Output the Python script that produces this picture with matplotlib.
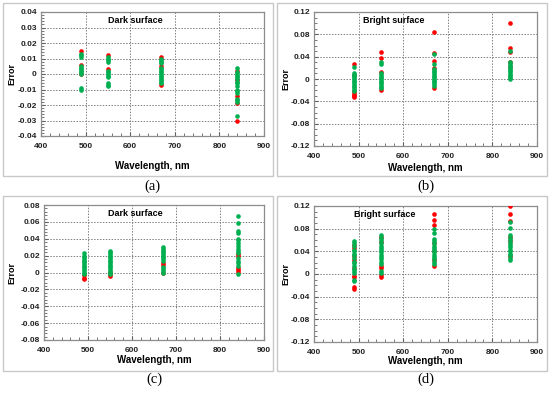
import matplotlib.pyplot as plt
from matplotlib.patches import Rectangle
from matplotlib.ticker import MultipleLocator, FuncFormatter

# --------------------------------------------------------------------------------
# Data
# --------------------------------------------------------------------------------
wavelengths = [490, 550, 670, 840]

a_red = [
    [0.015, 0.006, 0.0],
    [0.012, 0.003],
    [0.011, 0.005, -0.007],
    [0.002, -0.004, -0.014, -0.019, -0.030],
]
a_green = [
    [0.013, 0.012, 0.011, 0.005, 0.004, 0.003, 0.002, 0.001, 0.0, -0.009, -0.010],
    [0.011, 0.010, 0.009, 0.008, 0.002, 0.001, 0.0, -0.001, -0.002, -0.006, -0.007, -0.008],
    [0.010, 0.009, 0.008, 0.007, 0.004, 0.003, 0.002, 0.001, 0.0, -0.001, -0.002,
     -0.003, -0.004, -0.005, -0.006],
    [0.004, 0.001, 0.0, -0.001, -0.002, -0.003, -0.005, -0.006, -0.008, -0.010,
     -0.011, -0.012, -0.016, -0.017, -0.018, -0.027],
]

b_red = [
    [0.027, 0.007, -0.022, -0.025, -0.028, -0.031, -0.033],
    [0.048, 0.038, 0.012, -0.020],
    [0.085, 0.046, 0.032, 0.020, -0.016],
    [0.100, 0.056, 0.048, 0.030, 0.022],
]
b_green = [
    [0.021, 0.010, 0.008, 0.005, 0.003, 0.0, -0.003, -0.006, -0.009, -0.012, -0.015,
     -0.018, -0.021],
    [0.030, 0.026, 0.010, 0.007, 0.004, 0.001, -0.002, -0.005, -0.008, -0.011, -0.014,
     -0.017],
    [0.044, 0.026, 0.018, 0.015, 0.012, 0.009, 0.006, 0.003, 0.0, -0.003, -0.006,
     -0.009, -0.012],
    [0.051, 0.030, 0.027, 0.024, 0.020, 0.017, 0.014, 0.011, 0.008, 0.005, 0.002, 0.0],
]

c_red = [
    [-0.003, -0.006, -0.008],
    [0.001, -0.002, -0.004],
    [0.011, 0.009, -0.001],
    [0.022, 0.020, 0.005, 0.003, 0.001],
]
c_green = [
    [0.023, 0.020, 0.018, 0.016, 0.014, 0.012, 0.010, 0.008, 0.006, 0.004, 0.002, 0.0,
     -0.002],
    [0.026, 0.024, 0.022, 0.020, 0.018, 0.016, 0.014, 0.012, 0.010, 0.008, 0.006,
     0.004, 0.002, 0.0, -0.002],
    [0.030, 0.028, 0.026, 0.024, 0.022, 0.020, 0.018, 0.016, 0.014, 0.006, 0.004,
     0.002, 0.0],
    [0.067, 0.059, 0.049, 0.047, 0.040, 0.038, 0.035, 0.032, 0.028, 0.025, 0.023,
     0.017, 0.014, 0.011, 0.008, -0.002],
]

d_red = [
    [0.052, 0.046, 0.031, 0.025, 0.011, -0.003, -0.006, -0.023, -0.026],
    [0.066, 0.057, 0.014, 0.010, -0.002, -0.006],
    [0.106, 0.095, 0.087, 0.054, 0.040, 0.025, 0.014],
    [0.120, 0.106, 0.094, 0.066, 0.058, 0.032],
]
d_green = [
    [0.058, 0.054, 0.049, 0.043, 0.040, 0.036, 0.033, 0.028, 0.022, 0.019, 0.015,
     0.008, 0.005, 0.001, -0.010, -0.013],
    [0.068, 0.064, 0.060, 0.054, 0.050, 0.046, 0.042, 0.038, 0.034, 0.030, 0.026,
     0.022, 0.018, 0.005, 0.002],
    [0.080, 0.073, 0.062, 0.058, 0.054, 0.050, 0.046, 0.042, 0.038, 0.034, 0.030,
     0.026, 0.022, 0.018],
    [0.091, 0.082, 0.069, 0.063, 0.060, 0.055, 0.051, 0.047, 0.043, 0.040, 0.036,
     0.033, 0.029, 0.024],
]

titles = ["Dark surface", "Bright surface", "Dark surface", "Bright surface"]
captions = ["(a)", "(b)", "(c)", "(d)"]

# --------------------------------------------------------------------------------
# Layout (pixels, origin top-left)
# --------------------------------------------------------------------------------
W, H = 550, 395
RED = "#FF0000"
GREEN = "#00B050"
GRAY = "#8c8c8c"
SANS = "Liberation Sans"

fig = plt.figure(figsize=(W / 100, H / 100), dpi=100)


def px_rect(left, top, right, bottom):
    return [left / W, 1 - bottom / H, (right - left) / W, (bottom - top) / H]


boxes = [(3, 3, 273, 176), (277, 3, 547, 176), (3, 196, 273, 371), (277, 196, 547, 371)]
for l, t, r, b in boxes:
    fig.patches.append(Rectangle((l / W, 1 - b / H), (r - l) / W, (b - t) / H,
                                 transform=fig.transFigure, fill=False,
                                 edgecolor="#c8c8c8", linewidth=1.0))

panels = [
    dict(rect=(41, 12, 264, 136), red=a_red, green=a_green, lim=0.04, major=0.01,
         minor=0.002, tx=0.30, ylab_x=12, xlab_y=166, cap_y=186),
    dict(rect=(314, 12, 537, 146), red=b_red, green=b_green, lim=0.12, major=0.04,
         minor=0.01, tx=0.22, ylab_x=286, xlab_y=168, cap_y=186),
    dict(rect=(44, 205, 264, 340), red=c_red, green=c_green, lim=0.08, major=0.02,
         minor=0.004, tx=0.29, ylab_x=12, xlab_y=360, cap_y=379),
    dict(rect=(314, 206, 537, 342), red=d_red, green=d_green, lim=0.12, major=0.04,
         minor=0.01, tx=0.18, ylab_x=286, xlab_y=361, cap_y=379),
]


def fmt(v, pos):
    if abs(v) < 1e-9:
        return "0"
    return "%g" % round(v, 4)


for i, p in enumerate(panels):
    ax = fig.add_axes(px_rect(*p["rect"]))
    for j, wl in enumerate(wavelengths):
        ax.scatter([wl] * len(p["red"][j]), p["red"][j], s=11, color=RED,
                   linewidths=0, zorder=3)
        ax.scatter([wl] * len(p["green"][j]), p["green"][j], s=11, color=GREEN,
                   linewidths=0, zorder=4)

    ax.set_xlim(400, 900)
    ax.set_ylim(-p["lim"], p["lim"])
    ax.xaxis.set_major_locator(MultipleLocator(100))
    ax.xaxis.set_minor_locator(MultipleLocator(20))
    ax.yaxis.set_major_locator(MultipleLocator(p["major"]))
    ax.yaxis.set_minor_locator(MultipleLocator(p["minor"]))
    ax.yaxis.set_major_formatter(FuncFormatter(fmt))

    ax.grid(True, which="major", linestyle=(0, (1.5, 1.5)), color="#808080",
            linewidth=0.7)
    ax.set_axisbelow(True)
    for s in ax.spines.values():
        s.set_color(GRAY)
        s.set_linewidth(0.9)
    ax.tick_params(which="both", direction="in", color="#606060", labelsize=6,
                   pad=3, top=False, right=False)
    ax.tick_params(which="major", length=3)
    ax.tick_params(which="minor", length=2)
    ax.tick_params(axis="x", pad=5)
    for lab in ax.get_xticklabels() + ax.get_yticklabels():
        lab.set_fontweight("bold")
        lab.set_family(SANS)
        lab.set_color("#222222")

    ax.text(p["tx"], 0.935, titles[i], transform=ax.transAxes, fontsize=6.5,
            fontweight="bold", family=SANS, ha="left", va="center")

    l, t, r, b = p["rect"]
    cx = (l + r) / 2 / W
    cy = 1 - (t + b) / 2 / H
    fig.text(p["ylab_x"] / W, cy, "Error", fontsize=6.5, fontweight="bold",
             family=SANS, rotation=90, ha="center", va="center")
    fig.text(cx, 1 - p["xlab_y"] / H, "Wavelength, nm", fontsize=7,
             fontweight="bold", family=SANS, ha="center", va="center")
    fig.text(cx, 1 - p["cap_y"] / H, captions[i], fontsize=10.5,
             family="Liberation Serif", ha="center", va="center")

fig.savefig("out.png", dpi=100)
